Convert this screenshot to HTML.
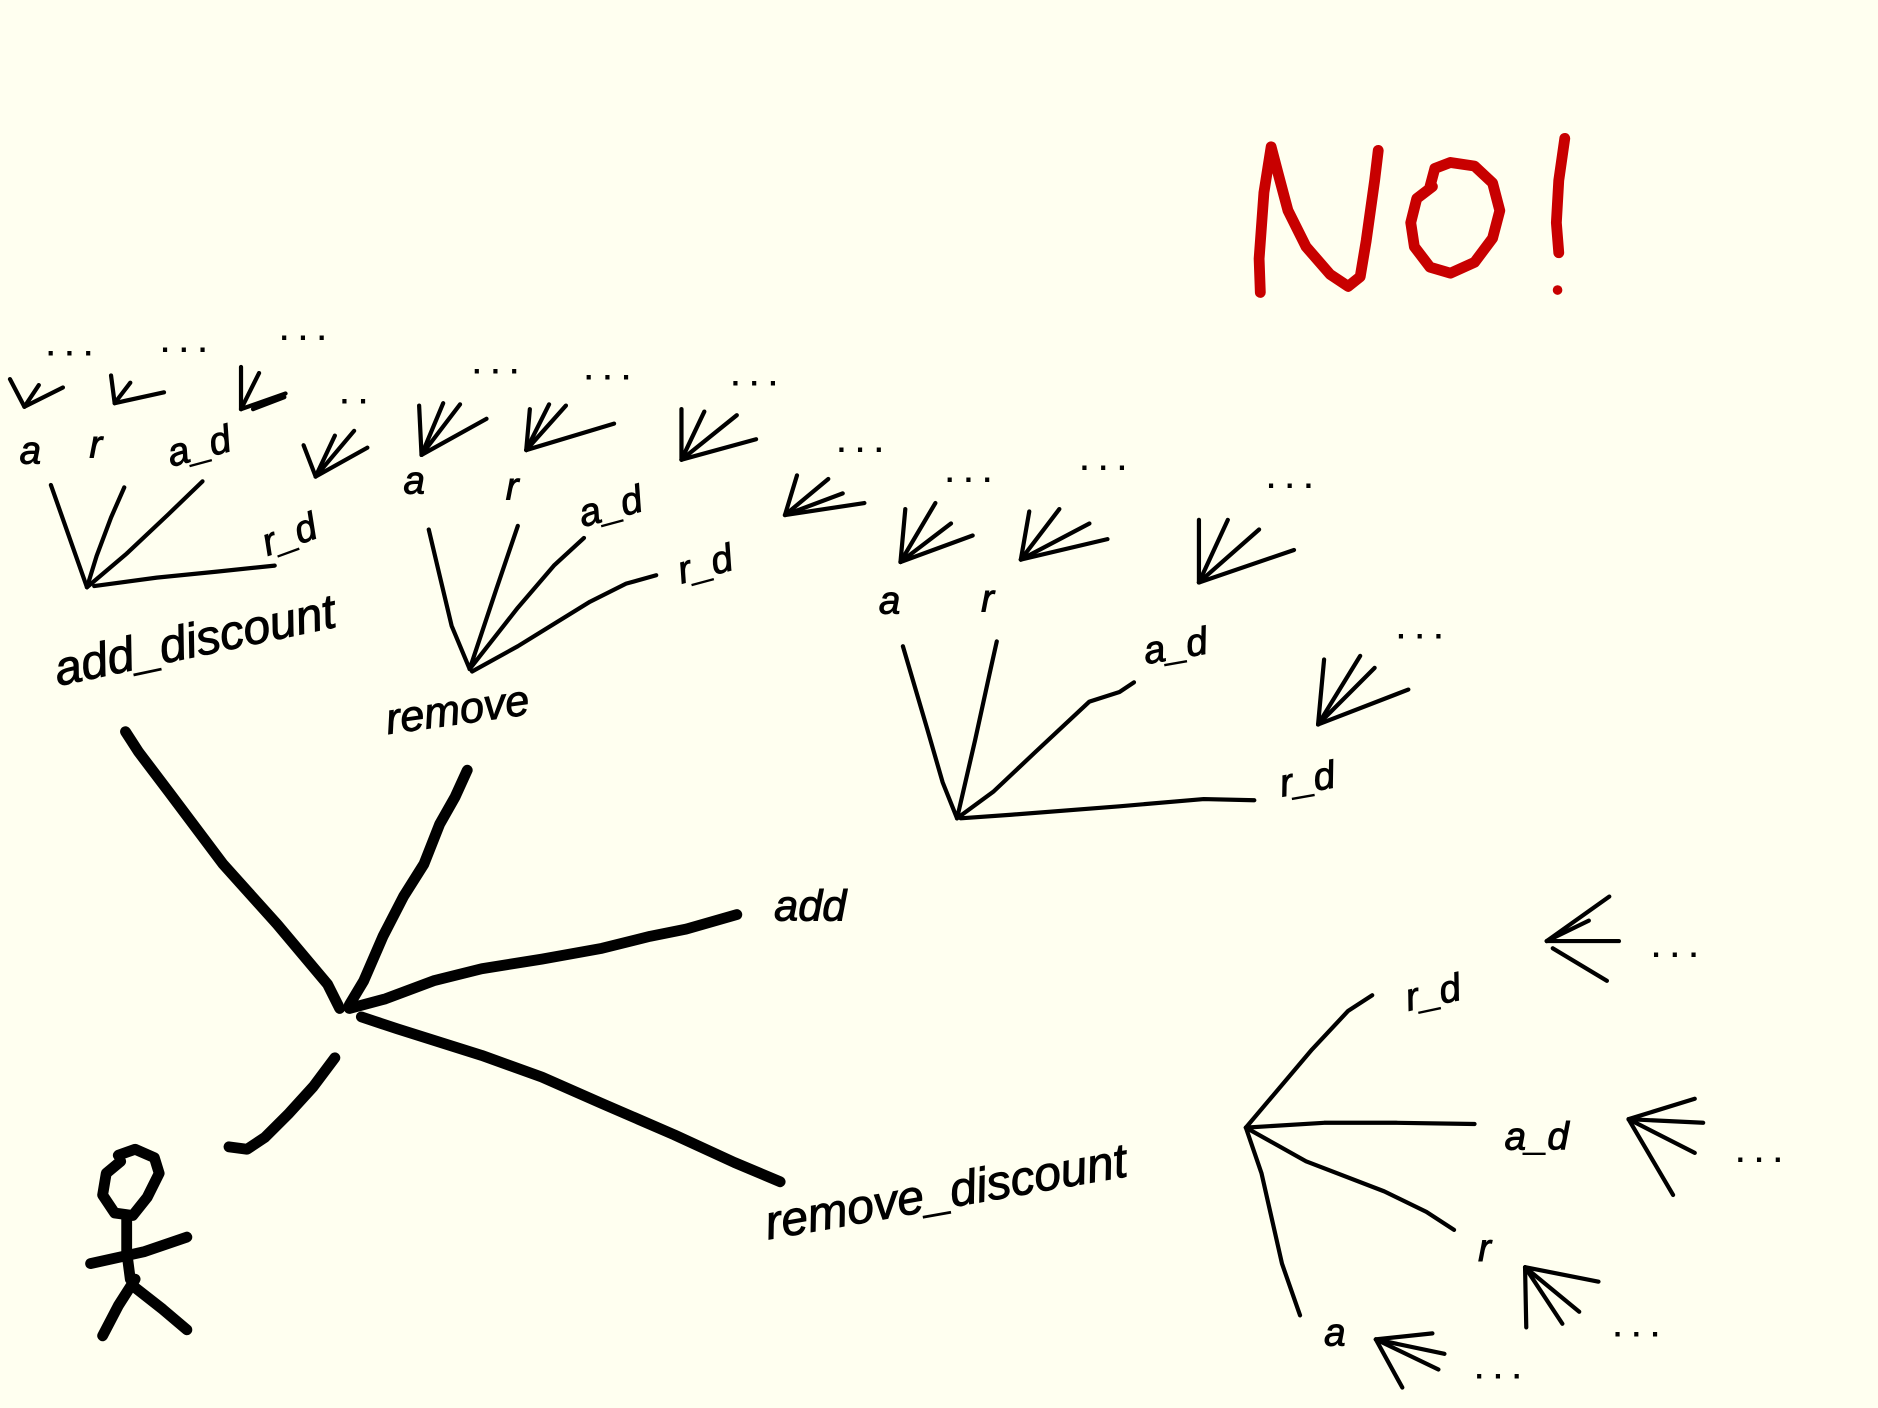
<!DOCTYPE html>
<html><head><meta charset="utf-8"><style>
html,body{margin:0;padding:0;background:#fffff0;}
svg{display:block}
text{font-family:"Liberation Sans",sans-serif;fill:#000;stroke:#000;stroke-width:0.8}
</style></head><body>
<svg width="1878" height="1408" viewBox="0 0 1560 1170" xmlns="http://www.w3.org/2000/svg">
<rect width="1560" height="1170" fill="#fffff0"/>
<g fill="none" stroke="#000" stroke-linecap="round" stroke-linejoin="round">
<g stroke="#c80000" stroke-width="9">
<path d="M1047 243 L1046 215 L1050 160 L1056 122 L1062 145 L1070 175 L1085 205 L1105 228 L1120 238 L1130 230 L1135 200 L1142 150 L1145 125"/>
<path d="M1190 155 L1177 165 L1172 185 L1175 205 L1188 222 L1205 227 L1225 218 L1240 198 L1246 175 L1240 152 L1225 138 L1205 135 L1192 140 L1188 155"/>
<path d="M1300 115 L1295 150 L1293 185 L1295 210"/>
</g>
<circle cx="1294" cy="241" r="4" fill="#c80000" stroke="none"/>
<g stroke-width="9">
<path d="M104 608 L115 625 L140 658 L185 718 L230 768 L272 818 L282 838"/>
<path d="M388 640 L378 662 L365 685 L352 718 L335 745 L318 778 L302 815 L290 835"/>
<path d="M290 838 L320 830 L360 815 L400 805 L450 797 L500 788 L540 778 L570 772 L612 760"/>
<path d="M300 845 L330 855 L400 877 L450 895 L500 917 L560 943 L610 966 L648 982"/>
<path d="M278 879 L260 903 L240 925 L220 945 L205 955 L190 953"/>
</g>
<g stroke-width="9">
<path d="M100 965 L88 975 L85 993 L95 1008 L110 1010 L122 995 L132 975 L128 962 L112 955 L98 960"/>
<path d="M105 1010 L105 1040 L108 1063"/>
<path d="M75 1050 L120 1040 L155 1028"/>
<path d="M112 1063 L98 1085 L85 1110"/>
<path d="M112 1070 L135 1088 L155 1105"/>
</g>
<g stroke-width="3.5">
<path d="M72 488 L42 403"/><path d="M72 488 L80 462 L92 430 L103 405"/><path d="M72 488 L105 460 L140 427 L168 400"/><path d="M78 487 L130 480 L180 475 L228 470"/>
<path d="M390 556 L375 520 L365 478 L356 440"/><path d="M390 556 L412 490 L430 437"/><path d="M390 556 L430 505 L460 470 L485 447"/><path d="M392 558 L430 537 L490 500 L520 485 L545 478"/>
<path d="M795 680 L783 650 L770 605 L750 537"/><path d="M795 680 L810 615 L822 560 L828 533"/><path d="M795 680 L825 658 L860 625 L905 583 L930 575 L942 567"/><path d="M798 680 L840 677 L930 670 L1000 664 L1042 665"/>
<path d="M1035 937 L1090 872 L1120 840 L1140 827"/><path d="M1035 937 L1100 933 L1160 933 L1225 934"/><path d="M1035 937 L1085 965 L1150 990 L1185 1007 L1208 1022"/><path d="M1035 937 L1048 975 L1065 1050 L1080 1093"/>
<path d="M20 338 L8 315"/><path d="M20 338 L32 320"/><path d="M20 338 L52 322"/>
<path d="M95 335 L92 312"/><path d="M95 335 L108 318"/><path d="M95 335 L136 326"/>
<path d="M200 340 L200 305"/><path d="M200 340 L215 310"/><path d="M200 340 L237 327"/><path d="M210 340 L236 330"/>
<path d="M262 396 L252 370"/><path d="M262 396 L278 362"/><path d="M262 396 L294 358"/><path d="M262 396 L305 372"/>
<path d="M350 378 L348 337"/><path d="M350 378 L368 335"/><path d="M350 378 L382 336"/><path d="M350 378 L404 348"/>
<path d="M437 374 L440 340"/><path d="M437 374 L456 336"/><path d="M437 374 L470 337"/><path d="M437 374 L510 352"/>
<path d="M566 382 L566 340"/><path d="M566 382 L585 342"/><path d="M566 382 L612 345"/><path d="M566 382 L628 365"/>
<path d="M652 428 L662 395"/><path d="M652 428 L688 398"/><path d="M652 428 L700 410"/><path d="M652 428 L718 418"/>
<path d="M748 467 L752 423"/><path d="M748 467 L777 418"/><path d="M748 467 L790 435"/><path d="M748 467 L808 445"/>
<path d="M848 465 L855 425"/><path d="M848 465 L880 423"/><path d="M848 465 L905 435"/><path d="M848 465 L920 448"/>
<path d="M996 484 L996 432"/><path d="M996 484 L1020 432"/><path d="M996 484 L1046 440"/><path d="M996 484 L1075 457"/>
<path d="M1095 602 L1100 548"/><path d="M1095 602 L1130 545"/><path d="M1095 602 L1142 555"/><path d="M1095 602 L1170 573"/>
<path d="M1285 782 L1337 745"/><path d="M1285 782 L1320 765"/><path d="M1285 782 L1345 782"/><path d="M1290 788 L1335 815"/>
<path d="M1353 930 L1408 913"/><path d="M1353 930 L1415 933"/><path d="M1353 930 L1408 958"/><path d="M1353 930 L1390 993"/>
<path d="M1267 1053 L1268 1103"/><path d="M1267 1053 L1298 1100"/><path d="M1267 1053 L1312 1090"/><path d="M1267 1053 L1328 1065"/>
<path d="M1143 1113 L1190 1108"/><path d="M1143 1113 L1200 1125"/><path d="M1143 1113 L1195 1138"/><path d="M1143 1113 L1165 1153"/>
</g>
</g>
<g font-style="italic">
<text x="48" y="570" font-size="40" transform="rotate(-12 48 570)">add_discount</text>
<text x="322" y="610" font-size="36" transform="rotate(-8 322 610)">remove</text>
<text x="643" y="765" font-size="36">add</text>
<text x="638" y="1030" font-size="40" transform="rotate(-10 638 1030)">remove_discount</text>
</g>
<g font-size="32" font-style="italic">
<text x="16" y="385">a</text><text x="74" y="380">r</text><text x="142" y="388" transform="rotate(-15 142 388)">a_d</text><text x="222" y="462" transform="rotate(-20 222 462)">r_d</text>
<text x="335" y="410">a</text><text x="420" y="415">r</text><text x="484" y="438" transform="rotate(-15 484 438)">a_d</text><text x="566" y="485" transform="rotate(-15 566 485)">r_d</text>
<text x="730" y="510">a</text><text x="815" y="508">r</text><text x="952" y="552" transform="rotate(-10 952 552)">a_d</text><text x="1065" y="662" transform="rotate(-10 1065 662)">r_d</text>
<text x="1170" y="840" transform="rotate(-12 1170 840)">r_d</text><text x="1250" y="955">a_d</text><text x="1228" y="1048">r</text><text x="1100" y="1118">a</text>
</g>
<g font-size="28">
<text x="38" y="295">. . .</text><text x="133" y="292">. . .</text><text x="232" y="282">. . .</text><text x="282" y="335">. .</text>
<text x="392" y="310">. . .</text><text x="485" y="315">. . .</text><text x="607" y="320">. . .</text><text x="695" y="375">. . .</text>
<text x="785" y="400">. . .</text><text x="897" y="390">. . .</text><text x="1052" y="405">. . .</text><text x="1160" y="530">. . .</text>
<text x="1372" y="795">. . .</text><text x="1442" y="965">. . .</text><text x="1340" y="1110">. . .</text><text x="1225" y="1145">. . .</text>
</g>
</svg>
</body></html>
